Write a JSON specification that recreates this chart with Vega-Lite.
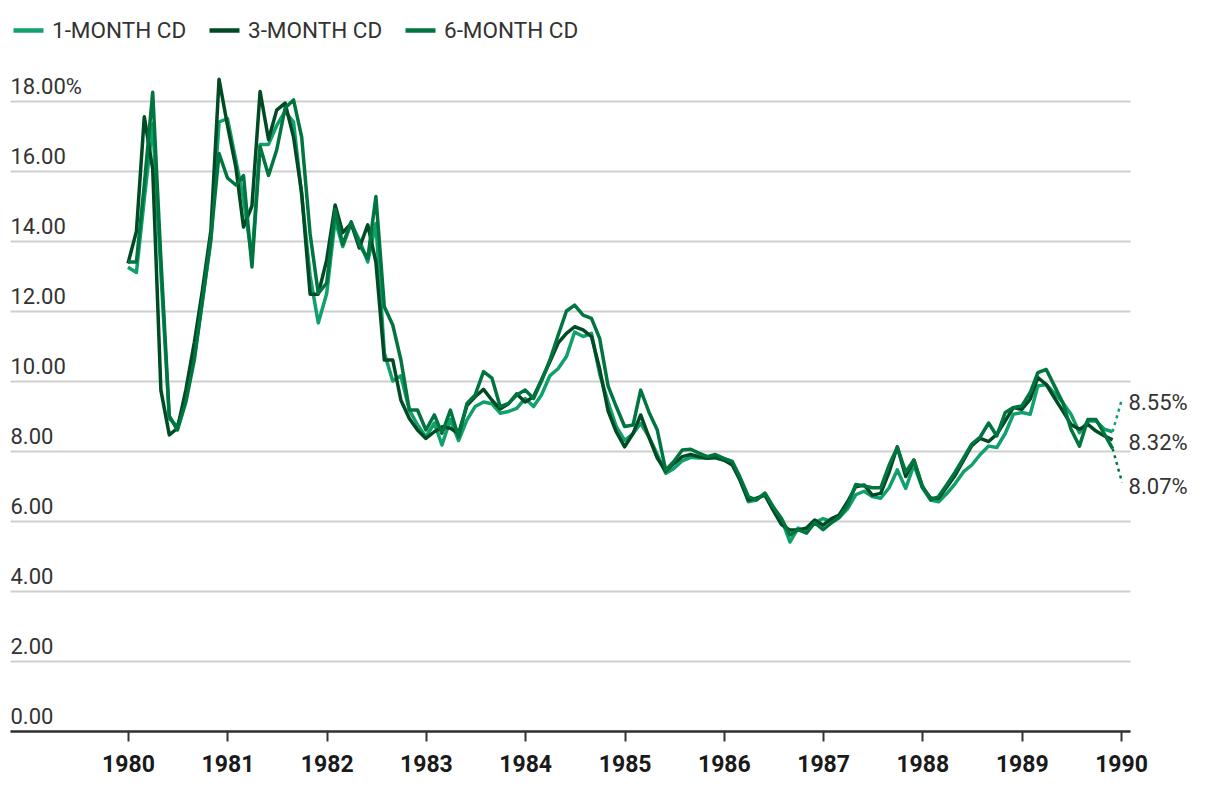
{
  "$schema": "https://vega.github.io/schema/vega-lite/v6.json",
  "width": 1120,
  "height": 630,
  "autosize": {"type": "none"},
  "padding": {"left": 10, "top": 101, "right": 90, "bottom": 59},
  "background": "white",
  "config": {"view": {"stroke": null}, "font": "Roboto"},
  "datasets": {
    "cd": [
      {"d":"1980-01-01","1-MONTH CD":13.25,"3-MONTH CD":13.36,"6-MONTH CD":13.4},
      {"d":"1980-02-01","1-MONTH CD":13.1,"3-MONTH CD":14.27,"6-MONTH CD":13.4},
      {"d":"1980-03-01","1-MONTH CD":15.2,"3-MONTH CD":17.55,"6-MONTH CD":15.6},
      {"d":"1980-04-01","1-MONTH CD":17.35,"3-MONTH CD":16.05,"6-MONTH CD":18.25},
      {"d":"1980-05-01","1-MONTH CD":13.1,"3-MONTH CD":9.74,"6-MONTH CD":13.5},
      {"d":"1980-06-01","1-MONTH CD":8.92,"3-MONTH CD":8.46,"6-MONTH CD":9.0},
      {"d":"1980-07-01","1-MONTH CD":8.7,"3-MONTH CD":8.65,"6-MONTH CD":8.6},
      {"d":"1980-08-01","1-MONTH CD":9.5,"3-MONTH CD":9.75,"6-MONTH CD":9.4},
      {"d":"1980-09-01","1-MONTH CD":10.7,"3-MONTH CD":11.1,"6-MONTH CD":10.6},
      {"d":"1980-10-01","1-MONTH CD":12.3,"3-MONTH CD":12.6,"6-MONTH CD":12.3},
      {"d":"1980-11-01","1-MONTH CD":14.0,"3-MONTH CD":14.3,"6-MONTH CD":14.1},
      {"d":"1980-12-01","1-MONTH CD":17.4,"3-MONTH CD":18.62,"6-MONTH CD":16.5},
      {"d":"1981-01-01","1-MONTH CD":17.5,"3-MONTH CD":17.3,"6-MONTH CD":15.8},
      {"d":"1981-02-01","1-MONTH CD":16.3,"3-MONTH CD":16.1,"6-MONTH CD":15.6},
      {"d":"1981-03-01","1-MONTH CD":15.2,"3-MONTH CD":14.4,"6-MONTH CD":15.87},
      {"d":"1981-04-01","1-MONTH CD":13.5,"3-MONTH CD":15.0,"6-MONTH CD":13.26},
      {"d":"1981-05-01","1-MONTH CD":16.76,"3-MONTH CD":18.27,"6-MONTH CD":16.7},
      {"d":"1981-06-01","1-MONTH CD":16.76,"3-MONTH CD":16.9,"6-MONTH CD":15.87},
      {"d":"1981-07-01","1-MONTH CD":17.3,"3-MONTH CD":17.74,"6-MONTH CD":16.6},
      {"d":"1981-08-01","1-MONTH CD":17.7,"3-MONTH CD":17.94,"6-MONTH CD":17.8},
      {"d":"1981-09-01","1-MONTH CD":17.4,"3-MONTH CD":16.97,"6-MONTH CD":18.03},
      {"d":"1981-10-01","1-MONTH CD":15.3,"3-MONTH CD":15.37,"6-MONTH CD":16.97},
      {"d":"1981-11-01","1-MONTH CD":13.0,"3-MONTH CD":12.48,"6-MONTH CD":14.2},
      {"d":"1981-12-01","1-MONTH CD":11.66,"3-MONTH CD":12.48,"6-MONTH CD":12.5},
      {"d":"1982-01-01","1-MONTH CD":12.5,"3-MONTH CD":13.46,"6-MONTH CD":12.8},
      {"d":"1982-02-01","1-MONTH CD":14.6,"3-MONTH CD":15.03,"6-MONTH CD":14.9},
      {"d":"1982-03-01","1-MONTH CD":13.84,"3-MONTH CD":14.24,"6-MONTH CD":13.9},
      {"d":"1982-04-01","1-MONTH CD":14.5,"3-MONTH CD":14.5,"6-MONTH CD":14.55},
      {"d":"1982-05-01","1-MONTH CD":14.03,"3-MONTH CD":13.8,"6-MONTH CD":13.9},
      {"d":"1982-06-01","1-MONTH CD":13.4,"3-MONTH CD":14.46,"6-MONTH CD":13.5},
      {"d":"1982-07-01","1-MONTH CD":14.5,"3-MONTH CD":13.4,"6-MONTH CD":15.27},
      {"d":"1982-08-01","1-MONTH CD":10.8,"3-MONTH CD":10.6,"6-MONTH CD":12.12},
      {"d":"1982-09-01","1-MONTH CD":10.0,"3-MONTH CD":10.6,"6-MONTH CD":11.6},
      {"d":"1982-10-01","1-MONTH CD":10.15,"3-MONTH CD":9.45,"6-MONTH CD":10.6},
      {"d":"1982-11-01","1-MONTH CD":9.17,"3-MONTH CD":8.93,"6-MONTH CD":9.17},
      {"d":"1982-12-01","1-MONTH CD":8.75,"3-MONTH CD":8.6,"6-MONTH CD":9.17},
      {"d":"1983-01-01","1-MONTH CD":8.4,"3-MONTH CD":8.36,"6-MONTH CD":8.6},
      {"d":"1983-02-01","1-MONTH CD":8.8,"3-MONTH CD":8.55,"6-MONTH CD":9.03},
      {"d":"1983-03-01","1-MONTH CD":8.17,"3-MONTH CD":8.69,"6-MONTH CD":8.5},
      {"d":"1983-04-01","1-MONTH CD":8.9,"3-MONTH CD":8.65,"6-MONTH CD":9.17},
      {"d":"1983-05-01","1-MONTH CD":8.3,"3-MONTH CD":8.5,"6-MONTH CD":8.4},
      {"d":"1983-06-01","1-MONTH CD":8.89,"3-MONTH CD":9.3,"6-MONTH CD":9.36},
      {"d":"1983-07-01","1-MONTH CD":9.27,"3-MONTH CD":9.55,"6-MONTH CD":9.6},
      {"d":"1983-08-01","1-MONTH CD":9.4,"3-MONTH CD":9.76,"6-MONTH CD":10.27},
      {"d":"1983-09-01","1-MONTH CD":9.35,"3-MONTH CD":9.45,"6-MONTH CD":10.08},
      {"d":"1983-10-01","1-MONTH CD":9.08,"3-MONTH CD":9.2,"6-MONTH CD":9.27},
      {"d":"1983-11-01","1-MONTH CD":9.13,"3-MONTH CD":9.35,"6-MONTH CD":9.36},
      {"d":"1983-12-01","1-MONTH CD":9.22,"3-MONTH CD":9.63,"6-MONTH CD":9.6},
      {"d":"1984-01-01","1-MONTH CD":9.5,"3-MONTH CD":9.4,"6-MONTH CD":9.74},
      {"d":"1984-02-01","1-MONTH CD":9.27,"3-MONTH CD":9.55,"6-MONTH CD":9.5},
      {"d":"1984-03-01","1-MONTH CD":9.6,"3-MONTH CD":10.03,"6-MONTH CD":10.0},
      {"d":"1984-04-01","1-MONTH CD":10.15,"3-MONTH CD":10.55,"6-MONTH CD":10.6},
      {"d":"1984-05-01","1-MONTH CD":10.35,"3-MONTH CD":11.08,"6-MONTH CD":11.3},
      {"d":"1984-06-01","1-MONTH CD":10.7,"3-MONTH CD":11.36,"6-MONTH CD":12.0},
      {"d":"1984-07-01","1-MONTH CD":11.4,"3-MONTH CD":11.55,"6-MONTH CD":12.17},
      {"d":"1984-08-01","1-MONTH CD":11.27,"3-MONTH CD":11.46,"6-MONTH CD":11.88},
      {"d":"1984-09-01","1-MONTH CD":11.36,"3-MONTH CD":11.27,"6-MONTH CD":11.79},
      {"d":"1984-10-01","1-MONTH CD":10.2,"3-MONTH CD":10.35,"6-MONTH CD":11.22},
      {"d":"1984-11-01","1-MONTH CD":9.4,"3-MONTH CD":9.15,"6-MONTH CD":9.86},
      {"d":"1984-12-01","1-MONTH CD":8.7,"3-MONTH CD":8.55,"6-MONTH CD":9.27},
      {"d":"1985-01-01","1-MONTH CD":8.3,"3-MONTH CD":8.12,"6-MONTH CD":8.7},
      {"d":"1985-02-01","1-MONTH CD":8.5,"3-MONTH CD":8.5,"6-MONTH CD":8.74},
      {"d":"1985-03-01","1-MONTH CD":8.79,"3-MONTH CD":9.03,"6-MONTH CD":9.74},
      {"d":"1985-04-01","1-MONTH CD":8.4,"3-MONTH CD":8.38,"6-MONTH CD":9.1},
      {"d":"1985-05-01","1-MONTH CD":7.9,"3-MONTH CD":7.8,"6-MONTH CD":8.6},
      {"d":"1985-06-01","1-MONTH CD":7.36,"3-MONTH CD":7.42,"6-MONTH CD":7.45},
      {"d":"1985-07-01","1-MONTH CD":7.5,"3-MONTH CD":7.64,"6-MONTH CD":7.7},
      {"d":"1985-08-01","1-MONTH CD":7.72,"3-MONTH CD":7.84,"6-MONTH CD":8.03},
      {"d":"1985-09-01","1-MONTH CD":7.82,"3-MONTH CD":7.9,"6-MONTH CD":8.05},
      {"d":"1985-10-01","1-MONTH CD":7.8,"3-MONTH CD":7.84,"6-MONTH CD":7.94},
      {"d":"1985-11-01","1-MONTH CD":7.8,"3-MONTH CD":7.79,"6-MONTH CD":7.84},
      {"d":"1985-12-01","1-MONTH CD":7.8,"3-MONTH CD":7.82,"6-MONTH CD":7.9},
      {"d":"1986-01-01","1-MONTH CD":7.74,"3-MONTH CD":7.74,"6-MONTH CD":7.79},
      {"d":"1986-02-01","1-MONTH CD":7.65,"3-MONTH CD":7.6,"6-MONTH CD":7.7},
      {"d":"1986-03-01","1-MONTH CD":7.2,"3-MONTH CD":7.17,"6-MONTH CD":7.26},
      {"d":"1986-04-01","1-MONTH CD":6.55,"3-MONTH CD":6.6,"6-MONTH CD":6.7},
      {"d":"1986-05-01","1-MONTH CD":6.6,"3-MONTH CD":6.65,"6-MONTH CD":6.6},
      {"d":"1986-06-01","1-MONTH CD":6.8,"3-MONTH CD":6.74,"6-MONTH CD":6.79},
      {"d":"1986-07-01","1-MONTH CD":6.4,"3-MONTH CD":6.31,"6-MONTH CD":6.41},
      {"d":"1986-08-01","1-MONTH CD":6.05,"3-MONTH CD":5.9,"6-MONTH CD":6.07},
      {"d":"1986-09-01","1-MONTH CD":5.4,"3-MONTH CD":5.74,"6-MONTH CD":5.6},
      {"d":"1986-10-01","1-MONTH CD":5.8,"3-MONTH CD":5.74,"6-MONTH CD":5.75},
      {"d":"1986-11-01","1-MONTH CD":5.7,"3-MONTH CD":5.8,"6-MONTH CD":5.65},
      {"d":"1986-12-01","1-MONTH CD":5.95,"3-MONTH CD":6.03,"6-MONTH CD":5.95},
      {"d":"1987-01-01","1-MONTH CD":6.07,"3-MONTH CD":5.88,"6-MONTH CD":5.75},
      {"d":"1987-02-01","1-MONTH CD":5.98,"3-MONTH CD":6.07,"6-MONTH CD":5.95},
      {"d":"1987-03-01","1-MONTH CD":6.1,"3-MONTH CD":6.17,"6-MONTH CD":6.1},
      {"d":"1987-04-01","1-MONTH CD":6.35,"3-MONTH CD":6.55,"6-MONTH CD":6.45},
      {"d":"1987-05-01","1-MONTH CD":6.75,"3-MONTH CD":6.98,"6-MONTH CD":7.04},
      {"d":"1987-06-01","1-MONTH CD":6.85,"3-MONTH CD":7.03,"6-MONTH CD":7.0},
      {"d":"1987-07-01","1-MONTH CD":6.7,"3-MONTH CD":6.74,"6-MONTH CD":6.95},
      {"d":"1987-08-01","1-MONTH CD":6.65,"3-MONTH CD":6.79,"6-MONTH CD":6.95},
      {"d":"1987-09-01","1-MONTH CD":6.95,"3-MONTH CD":7.4,"6-MONTH CD":7.6},
      {"d":"1987-10-01","1-MONTH CD":7.46,"3-MONTH CD":8.12,"6-MONTH CD":8.1},
      {"d":"1987-11-01","1-MONTH CD":6.93,"3-MONTH CD":7.27,"6-MONTH CD":7.4},
      {"d":"1987-12-01","1-MONTH CD":7.6,"3-MONTH CD":7.74,"6-MONTH CD":7.74},
      {"d":"1988-01-01","1-MONTH CD":6.95,"3-MONTH CD":6.98,"6-MONTH CD":7.0},
      {"d":"1988-02-01","1-MONTH CD":6.6,"3-MONTH CD":6.65,"6-MONTH CD":6.6},
      {"d":"1988-03-01","1-MONTH CD":6.55,"3-MONTH CD":6.65,"6-MONTH CD":6.7},
      {"d":"1988-04-01","1-MONTH CD":6.79,"3-MONTH CD":6.98,"6-MONTH CD":7.05},
      {"d":"1988-05-01","1-MONTH CD":7.07,"3-MONTH CD":7.31,"6-MONTH CD":7.4},
      {"d":"1988-06-01","1-MONTH CD":7.41,"3-MONTH CD":7.74,"6-MONTH CD":7.8},
      {"d":"1988-07-01","1-MONTH CD":7.6,"3-MONTH CD":8.15,"6-MONTH CD":8.2},
      {"d":"1988-08-01","1-MONTH CD":7.9,"3-MONTH CD":8.36,"6-MONTH CD":8.4},
      {"d":"1988-09-01","1-MONTH CD":8.14,"3-MONTH CD":8.27,"6-MONTH CD":8.8},
      {"d":"1988-10-01","1-MONTH CD":8.1,"3-MONTH CD":8.48,"6-MONTH CD":8.43},
      {"d":"1988-11-01","1-MONTH CD":8.5,"3-MONTH CD":8.86,"6-MONTH CD":9.1},
      {"d":"1988-12-01","1-MONTH CD":9.05,"3-MONTH CD":9.24,"6-MONTH CD":9.24},
      {"d":"1989-01-01","1-MONTH CD":9.1,"3-MONTH CD":9.19,"6-MONTH CD":9.29},
      {"d":"1989-02-01","1-MONTH CD":9.05,"3-MONTH CD":9.48,"6-MONTH CD":9.67},
      {"d":"1989-03-01","1-MONTH CD":9.86,"3-MONTH CD":10.1,"6-MONTH CD":10.24},
      {"d":"1989-04-01","1-MONTH CD":9.9,"3-MONTH CD":9.9,"6-MONTH CD":10.33},
      {"d":"1989-05-01","1-MONTH CD":9.65,"3-MONTH CD":9.52,"6-MONTH CD":9.86},
      {"d":"1989-06-01","1-MONTH CD":9.38,"3-MONTH CD":9.14,"6-MONTH CD":9.38},
      {"d":"1989-07-01","1-MONTH CD":9.05,"3-MONTH CD":8.76,"6-MONTH CD":8.62},
      {"d":"1989-08-01","1-MONTH CD":8.52,"3-MONTH CD":8.62,"6-MONTH CD":8.14},
      {"d":"1989-09-01","1-MONTH CD":8.86,"3-MONTH CD":8.76,"6-MONTH CD":8.9},
      {"d":"1989-10-01","1-MONTH CD":8.86,"3-MONTH CD":8.57,"6-MONTH CD":8.9},
      {"d":"1989-11-01","1-MONTH CD":8.62,"3-MONTH CD":8.43,"6-MONTH CD":8.48},
      {"d":"1989-12-01","1-MONTH CD":8.55,"3-MONTH CD":8.32,"6-MONTH CD":8.07}
    ]
  },
  "data": {"name": "cd"},
  "transform": [
    {"fold": ["1-MONTH CD", "3-MONTH CD", "6-MONTH CD"], "as": ["series", "rate"]}
  ],
  "encoding": {
    "x": {
      "field": "d",
      "type": "temporal",
      "scale": {
        "type": "utc",
        "domain": [
          {"year": 1978, "month": 10, "date": 24, "utc": true},
          {"year": 1990, "month": 2, "date": 3, "utc": true}
        ]
      },
      "axis": {
        "title": null,
        "grid": false,
        "values": [
          {"year": 1980, "month": 1, "date": 1, "utc": true},
          {"year": 1981, "month": 1, "date": 1, "utc": true},
          {"year": 1982, "month": 1, "date": 1, "utc": true},
          {"year": 1983, "month": 1, "date": 1, "utc": true},
          {"year": 1984, "month": 1, "date": 1, "utc": true},
          {"year": 1985, "month": 1, "date": 1, "utc": true},
          {"year": 1986, "month": 1, "date": 1, "utc": true},
          {"year": 1987, "month": 1, "date": 1, "utc": true},
          {"year": 1988, "month": 1, "date": 1, "utc": true},
          {"year": 1989, "month": 1, "date": 1, "utc": true},
          {"year": 1990, "month": 1, "date": 1, "utc": true}
        ],
        "format": "%Y",
        "labelFont": "Roboto",
        "labelFontWeight": "bold",
        "labelFontSize": 23,
        "labelColor": "#1a1a1a",
        "labelPadding": 12,
        "tickSize": 10,
        "tickWidth": 2,
        "tickColor": "#333333",
        "domainColor": "#333333",
        "domainWidth": 2.5
      }
    },
    "y": {
      "field": "rate",
      "type": "quantitative",
      "scale": {"domain": [0, 18], "nice": false, "zero": true},
      "axis": {
        "title": null,
        "values": [0, 2, 4, 6, 8, 10, 12, 14, 16, 18],
        "domain": false,
        "ticks": false,
        "tickSize": 0,
        "grid": true,
        "gridColor": "#cfcfcf",
        "gridWidth": 2,
        "labelAlign": "left",
        "labelBaseline": "alphabetic",
        "labelPadding": 0,
        "labelOffset": -8,
        "labelFont": "Roboto",
        "labelFontSize": 22,
        "labelColor": "#333333",
        "labelExpr": "datum.value == 18 ? '18.00%' : format(datum.value, '.2f')"
      }
    }
  },
  "layer": [
    {
      "mark": {"type": "line", "strokeWidth": 3.5, "strokeJoin": "round"},
      "encoding": {
        "color": {
          "field": "series",
          "type": "nominal",
          "scale": {
            "domain": ["1-MONTH CD", "3-MONTH CD", "6-MONTH CD"],
            "range": ["#10a06c", "#004b23", "#007540"]
          },
          "legend": {
            "title": null,
            "orient": "none",
            "legendX": 1,
            "legendY": -88,
            "direction": "horizontal",
            "symbolType": "stroke",
            "symbolSize": 900,
            "symbolStrokeWidth": 4.5,
            "labelFont": "Roboto",
            "labelFontSize": 22.5,
            "labelColor": "#333333",
            "labelOffset": 6,
            "columnPadding": 13
          }
        }
      }
    },
    {
      "transform": [
        {"filter": {"field": "d", "timeUnit": "utcyearmonth", "equal": {"year": 1989, "month": 12, "utc": true}}},
        {"filter": {"field": "series", "equal": "1-MONTH CD"}}
      ],
      "mark": {"type": "rule", "strokeDash": [3, 4], "strokeWidth": 2.5, "color": "#10a06c"},
      "encoding": {
        "x2": {"datum": {"year": 1990, "month": 1, "date": 5, "utc": true}},
        "y2": {"datum": 9.5}
      }
    },
    {
      "transform": [
        {"filter": {"field": "d", "timeUnit": "utcyearmonth", "equal": {"year": 1989, "month": 12, "utc": true}}},
        {"filter": {"field": "series", "equal": "6-MONTH CD"}}
      ],
      "mark": {"type": "rule", "strokeDash": [3, 4], "strokeWidth": 2.5, "color": "#007540"},
      "encoding": {
        "x2": {"datum": {"year": 1990, "month": 1, "date": 5, "utc": true}},
        "y2": {"datum": 7.1}
      }
    },
    {
      "transform": [
        {"filter": {"field": "d", "timeUnit": "utcyearmonth", "equal": {"year": 1989, "month": 12, "utc": true}}},
        {"filter": {"field": "series", "equal": "1-MONTH CD"}},
        {"calculate": "format(datum.rate, '.2f') + '%'", "as": "lbl"}
      ],
      "mark": {"type": "text", "align": "left", "baseline": "middle", "dx": 16, "dy": -29, "font": "Roboto", "fontSize": 22, "color": "#333333"},
      "encoding": {"text": {"field": "lbl"}}
    },
    {
      "transform": [
        {"filter": {"field": "d", "timeUnit": "utcyearmonth", "equal": {"year": 1989, "month": 12, "utc": true}}},
        {"filter": {"field": "series", "equal": "3-MONTH CD"}},
        {"calculate": "format(datum.rate, '.2f') + '%'", "as": "lbl"}
      ],
      "mark": {"type": "text", "align": "left", "baseline": "middle", "dx": 16, "dy": 3, "font": "Roboto", "fontSize": 22, "color": "#333333"},
      "encoding": {"text": {"field": "lbl"}}
    },
    {
      "transform": [
        {"filter": {"field": "d", "timeUnit": "utcyearmonth", "equal": {"year": 1989, "month": 12, "utc": true}}},
        {"filter": {"field": "series", "equal": "6-MONTH CD"}},
        {"calculate": "format(datum.rate, '.2f') + '%'", "as": "lbl"}
      ],
      "mark": {"type": "text", "align": "left", "baseline": "middle", "dx": 16, "dy": 38, "font": "Roboto", "fontSize": 22, "color": "#333333"},
      "encoding": {"text": {"field": "lbl"}}
    }
  ]
}
